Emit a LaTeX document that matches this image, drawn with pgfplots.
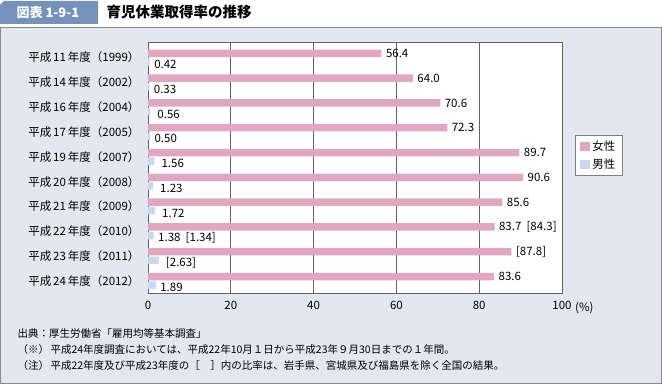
\documentclass[border=0pt]{standalone}
\usepackage{fontspec}
\setmainfont{Noto Sans CJK JP}
\usepackage{pgfplots}
\pgfplotsset{compat=1.18}
\definecolor{panel}{HTML}{E1E8EF}
\definecolor{hdr}{HTML}{7692B9}
\definecolor{fem}{HTML}{E0A8C0}
\definecolor{mal}{HTML}{CAD8EE}
\definecolor{gridc}{HTML}{606060}
\definecolor{bord}{HTML}{8A8A8A}
\newcommand{\lbl}{\fontsize{11.5}{13}\selectfont}
\newcommand{\fn}{\fontsize{10.5}{12}\selectfont}
\pgfplotstableread{
y fem flab
9 56.4 56.4
8 64.0 64.0
7 70.6 70.6
6 72.3 72.3
5 89.7 89.7
4 90.6 90.6
3 85.6 85.6
2 83.7 {83.7\ \ [84.3]}
1 87.8 {[87.8]}
0 83.6 83.6
}\femtab
\pgfplotstableread{
y mal mlab
9 0.42 0.42
8 0.33 0.33
7 0.56 {\ 0.56}
6 0.50 0.50
5 1.56 {\ 1.56}
4 1.23 {\ 1.23}
3 1.72 {\ 1.72}
2 1.38 {1.38\ \ [1.34]}
1 2.63 {\ [2.63]}
0 1.89 1.89
}\maltab
\begin{document}
\begin{tikzpicture}[x=1pt,y=1pt]
\fill[white] (0,0) rectangle (662,384);
\fill[panel] (0.5,0.8) rectangle (661,357);
\draw[bord, line width=0.8pt] (0.5,0.8) rectangle (661,357);
\fill[hdr] (0,360) -- (0,379) -- (4,383) -- (98,383) -- (98,360) -- cycle;
\node[white, anchor=west, font=\bfseries\fontsize{13}{13}\selectfont] at (13,371.5) {図表 1-9-1};
\node[black, anchor=west, font=\bfseries\fontsize{14.5}{14.5}\selectfont] at (103,371.5) {育児休業取得率の推移};
\begin{axis}[
  at={(148pt,91pt)}, anchor=south west,
  width=414pt, height=251pt, scale only axis,
  xbar, xmin=0, xmax=100, ymin=-0.49, ymax=9.63,
  axis background/.style={fill=white},
  xtick={0,20,40,60,80,100},
  ytick={0,...,9},
  yticklabels={平成\,24\,年度（2012）,平成\,23\,年度（2011）,平成\,22\,年度（2010）,平成\,21\,年度（2009）,平成\,20\,年度（2008）,平成\,19\,年度（2007）,平成\,17\,年度（2005）,平成\,16\,年度（2004）,平成\,14\,年度（2002）,平成\,11\,年度（1999）},
  major tick length=0pt,
  xmajorgrids, grid style={gridc, line width=0.9pt},
  axis line style={gridc, line width=0.9pt},
  /pgf/number format/assume math mode=true,
  ticklabel style={font=\lbl},
  xticklabel style={yshift=-5pt},
  yticklabel style={xshift=-5pt},
  bar width=7.5pt,
  legend style={at={(1,0.5)}, anchor=west, xshift=13pt, yshift=12pt, draw=gray, line width=0.8pt, fill=white, font=\lbl, row sep=2pt, inner xsep=5pt, inner ysep=4pt},
  legend cell align=left,
  clip=false,
]
\addplot[fill=fem, draw=none, bar shift=4.3pt,
  legend image code/.code={\fill[fem] (0pt,-4.5pt) rectangle (10pt,4.5pt);},
  nodes near coords, point meta=explicit symbolic,
  nodes near coords style={anchor=west, xshift=1pt, font=\lbl, text=black}]
  table[x=fem, y=y, meta=flab] {\femtab};
\addlegendentry{女性}
\addplot[fill=mal, draw=none, bar shift=-4.3pt,
  legend image code/.code={\fill[mal] (0pt,-4.5pt) rectangle (10pt,4.5pt);},
  nodes near coords, point meta=explicit symbolic,
  nodes near coords style={anchor=west, xshift=1pt, yshift=-2.5pt, font=\lbl, text=black}]
  table[x=mal, y=y, meta=mlab] {\maltab};
\addlegendentry{男性}
\end{axis}
\node[anchor=west, font=\lbl, inner sep=0pt] at (575,76.3) {(\%)};
\node[anchor=west, font=\fn] at (14,50) {出典：厚生労働省「雇用均等基本調査」};
\node[anchor=west, font=\fn] at (14,34) {（※）};
\node[anchor=west, font=\fn] at (47,34) {平成24年度調査においては、平成22年10月１日から平成23年９月30日までの１年間。};
\node[anchor=west, font=\fn] at (14,18) {（注）};
\node[anchor=west, font=\fn] at (47,18) {平成22年度及び平成23年度の［　］内の比率は、岩手県、宮城県及び福島県を除く全国の結果。};
\end{tikzpicture}
\end{document}
